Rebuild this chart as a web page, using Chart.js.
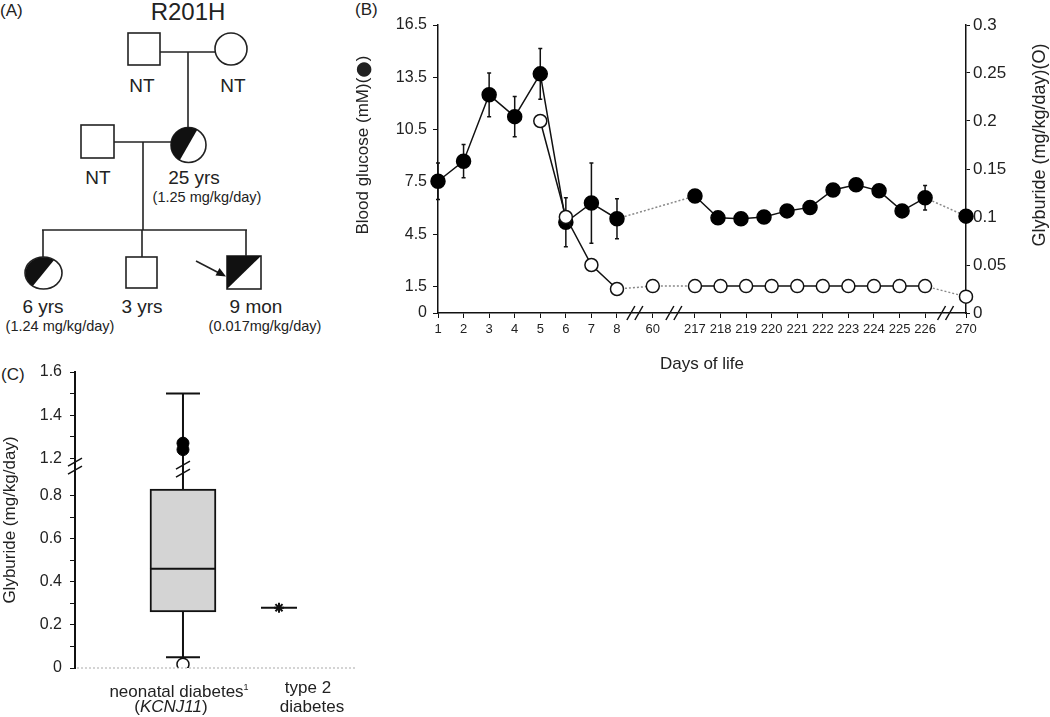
<!DOCTYPE html>
<html>
<head>
<meta charset="utf-8">
<script src="https://cdn.jsdelivr.net/npm/chart.js@4.4.1/dist/chart.umd.min.js"></script>
<style>
  body { margin: 0; background: #fff; width: 1050px; height: 717px; position: relative; overflow: hidden;
         font-family: "Liberation Sans", Arial, sans-serif; color: #222; }
  #pedigree { position: absolute; left: 0; top: 0; }
  #boxB { position: absolute; left: 355px; top: 0; width: 695px; height: 380px; }
  #boxC { position: absolute; left: 0; top: 340px; width: 380px; height: 377px; }
  .lbl { position: absolute; font-size: 17px; line-height: 19px; white-space: nowrap; transform: translateX(-50%); }
  .tag { position: absolute; font-size: 17px; line-height: 19px; }
  sup { font-size: 9px; vertical-align: 7px; }
</style>
</head>
<body>

<!-- (A) pedigree -->
<svg id="pedigree" width="355" height="336" viewBox="0 0 355 336" font-family="Liberation Sans, Arial, sans-serif" fill="#222">
  <text x="0" y="16" font-size="17">(A)</text>
  <text x="188" y="20" font-size="24" text-anchor="middle">R201H</text>
  <g stroke="#222" stroke-width="1.6" fill="none">
    <line x1="160" y1="52" x2="215" y2="52"/>
    <line x1="188" y1="52" x2="188" y2="127"/>
    <line x1="114" y1="142" x2="171" y2="142"/>
    <line x1="143" y1="142" x2="143" y2="230"/>
    <line x1="42" y1="230" x2="247" y2="230"/>
    <line x1="43" y1="230" x2="43" y2="257"/>
    <line x1="142" y1="230" x2="142" y2="257"/>
    <line x1="246" y1="230" x2="246" y2="256"/>
    <rect x="128" y="33" width="32" height="32" fill="#fff"/>
    <circle cx="231" cy="49" r="16" fill="#fff"/>
    <rect x="81" y="125" width="33" height="33" fill="#fff"/>
    <circle cx="188.5" cy="145" r="17.5" fill="#fff"/>
    <ellipse cx="43.5" cy="273" rx="18.5" ry="16" fill="#fff"/>
    <rect x="126" y="257" width="31" height="31" fill="#fff"/>
    <rect x="227" y="256" width="34" height="33" fill="#fff"/>
    <line x1="196" y1="261" x2="221" y2="274"/>
  </g>
  <g fill="#111" stroke="none">
    <path d="M197.25,129.84 A17.5,17.5 0 0 0 179.75,160.16 Z"/>
    <path d="M54.11,259.9 A18.5,16 0 0 0 32.89,286.1 Z"/>
    <polygon points="227,256 261,256 227,289"/>
    <polygon points="226,276.5 215.5,275.5 219.5,268"/>
  </g>
  <g font-size="19" text-anchor="middle">
    <text x="142" y="92">NT</text>
    <text x="233" y="92">NT</text>
    <text x="98" y="184">NT</text>
    <text x="194" y="184">25 yrs</text>
    <text x="43" y="313">6 yrs</text>
    <text x="142" y="313">3 yrs</text>
    <text x="256" y="313">9 mon</text>
  </g>
  <g font-size="14.5" text-anchor="middle">
    <text x="207" y="202">(1.25 mg/kg/day)</text>
    <text x="60" y="331">(1.24 mg/kg/day)</text>
    <text x="265" y="331">(0.017mg/kg/day)</text>
  </g>
</svg>

<div class="tag" style="left:355px; top:0px;">(B)</div>
<div id="boxB"><canvas id="chartB"></canvas></div>

<div class="tag" style="left:1px; top:365px;">(C)</div>
<div id="boxC"><canvas id="chartC"></canvas></div>
<div class="lbl" style="left:179px; top:678px;">neonatal diabetes<sup>1</sup></div>
<div class="lbl" style="left:171px; top:697px;">(<i>KCNJ11</i>)</div>
<div class="lbl" style="left:308px; top:678px;">type 2</div>
<div class="lbl" style="left:312px; top:697px;">diabetes</div>

<script>
// ---------- data, panel B ----------
const dayTicks = [1, 2, 3, 4, 5, 6, 7, 8, 60, 217, 218, 219, 220, 221, 222, 223, 224, 225, 226, 270];
const glucoseDays = [1, 2, 3, 4, 5, 6, 7, 8, 217, 217.9, 218.8, 219.7, 220.6, 221.5, 222.4, 223.3, 224.2, 225.1, 226, 270];
const glucoseMean = [7.55, 8.7, 12.5, 11.25, 13.7, 5.2, 6.3, 5.4, 6.7, 5.45, 5.4, 5.5, 5.85, 6.05, 7.05, 7.35, 7.0, 5.85, 6.6, 5.55];
const glucoseSD = [1.05, 0.95, 1.25, 1.15, 1.45, 1.4, 2.3, 1.15, 0, 0, 0, 0, 0, 0, 0, 0, 0, 0, 0.7, 0];
const glyburideDays = [5, 6, 7, 8, 60, 217, 218, 219, 220, 221, 222, 223, 224, 225, 226, 270];
const glyburideDose = [0.2, 0.1, 0.05, 0.025, 0.028, 0.028, 0.028, 0.028, 0.028, 0.028, 0.028, 0.028, 0.028, 0.028, 0.028, 0.017];
const glucoseTicks = [0, 1.5, 4.5, 7.5, 10.5, 13.5, 16.5];
const doseTicksB = [0, 0.05, 0.1, 0.15, 0.2, 0.25, 0.3];

// ---------- data, panel C ----------
const neonatalBox = [0.05, 0.26, 0.46, 0.83, 1.5];   // min, q1, median, q3, max
const familyDoses = [1.24, 1.27];
const probandDose = [0.017];
const type2Dose = [0.28];
const doseTicksC = [0, 0.1, 0.2, 0.3, 0.4, 0.5, 0.6, 0.7, 0.8, 1.2, 1.3, 1.4, 1.5, 1.6];

const FONT = '"Liberation Sans", Arial, sans-serif';
Chart.defaults.font.family = FONT;
Chart.defaults.color = '#222';
Chart.defaults.animation = false;

// broken day axis: 1..8 | 60 | 217..226 | 270
function slot(d) {
    if (d <= 8) return d - 1;
    if (d < 217) return 8.4;
    if (d <= 226) return d - 217 + 10.05;
    return 20.65;
}
const isGap = (days) => (c) => days[c.p1DataIndex] - days[c.p0DataIndex] > 20;

const errorBars = {
    id: 'errorBars',
    beforeDatasetsDraw(chart) {
        const { ctx, scales: { x, y } } = chart;
        ctx.save();
        ctx.strokeStyle = '#111';
        ctx.lineWidth = 1.5;
        glucoseDays.forEach((d, i) => {
            if (!glucoseSD[i]) return;
            const px = x.getPixelForValue(slot(d));
            const top = y.getPixelForValue(glucoseMean[i] + glucoseSD[i]);
            const bot = y.getPixelForValue(glucoseMean[i] - glucoseSD[i]);
            ctx.beginPath();
            ctx.moveTo(px, top); ctx.lineTo(px, bot);
            ctx.moveTo(px - 2, top); ctx.lineTo(px + 2, top);
            ctx.moveTo(px - 2, bot); ctx.lineTo(px + 2, bot);
            ctx.stroke();
        });
        ctx.restore();
    }
};

function breakMark(ctx, cx, cy, vertical) {
    ctx.beginPath();
    [-4, 4].forEach(o => {
        if (vertical) { ctx.moveTo(cx - 7, cy + o + 4); ctx.lineTo(cx + 7, cy + o - 4); }
        else { ctx.moveTo(cx + o - 4, cy + 7); ctx.lineTo(cx + o + 4, cy - 7); }
    });
    ctx.stroke();
}

// rotated title made of pieces with their own fonts, centred on (cx, cy)
function rotatedTitle(ctx, parts, cx, cy) {
    ctx.save();
    ctx.translate(cx, cy);
    ctx.rotate(-Math.PI / 2);
    ctx.textAlign = 'left';
    ctx.textBaseline = 'middle';
    let total = 0;
    parts.forEach(p => { ctx.font = p[1]; total += ctx.measureText(p[0]).width; });
    let pos = -total / 2;
    parts.forEach(p => {
        ctx.font = p[1];
        ctx.fillText(p[0], pos, p[2] || 0);
        pos += ctx.measureText(p[0]).width;
    });
    ctx.restore();
}

const decorB = {
    id: 'decorB',
    afterDraw(chart) {
        const { ctx, chartArea: a, scales: { x } } = chart;
        ctx.save();
        ctx.strokeStyle = '#111';
        ctx.lineWidth = 1.5;
        for (let i = 1; i < dayTicks.length; i++) {
            if (dayTicks[i] - dayTicks[i - 1] > 20) {
                breakMark(ctx, x.getPixelForValue((slot(dayTicks[i]) + slot(dayTicks[i - 1])) / 2), a.bottom, false);
            }
        }
        ctx.fillStyle = '#222';
        ctx.textAlign = 'center';
        ctx.textBaseline = 'middle';
        ctx.font = '17px ' + FONT;
        ctx.fillText('Days of life', (a.left + a.right) / 2, 364);
        rotatedTitle(ctx, [
            ['Blood glucose (mM)(', '17px ' + FONT],
            ['\u25CF', '19px "DejaVu Sans"', 1],
            [')', '17px ' + FONT]
        ], a.left - 75, 145);
        rotatedTitle(ctx, [['Glyburide (mg/kg/day)(O)', '18px ' + FONT]], a.right + 74, 145);
        ctx.restore();
    }
};

new Chart(document.getElementById('chartB'), {
    type: 'line',
    data: {
        datasets: [{
            label: 'Glyburide',
            data: glyburideDays.map((d, i) => ({ x: slot(d), y: glyburideDose[i] })),
            yAxisID: 'y1',
            borderColor: '#111',
            borderWidth: 1.5,
            pointRadius: 6.5,
            pointBackgroundColor: '#fff',
            pointBorderColor: '#111',
            pointBorderWidth: 1.5,
            clip: false,
            segment: {
                borderDash: c => isGap(glyburideDays)(c) ? [2, 2] : undefined,
                borderColor: c => isGap(glyburideDays)(c) ? '#888' : undefined
            }
        }, {
            label: 'Blood glucose',
            data: glucoseDays.map((d, i) => ({ x: slot(d), y: glucoseMean[i] })),
            yAxisID: 'y',
            borderColor: '#111',
            borderWidth: 1.5,
            pointRadius: 7,
            pointBackgroundColor: '#000',
            pointBorderColor: '#000',
            clip: false,
            segment: {
                borderDash: c => isGap(glucoseDays)(c) ? [2, 2] : undefined,
                borderColor: c => isGap(glucoseDays)(c) ? '#888' : undefined
            }
        }]
    },
    options: {
        responsive: true,
        maintainAspectRatio: false,
        layout: { padding: { top: 25, left: 0, right: 0, bottom: 0 } },
        plugins: { legend: { display: false }, tooltip: { enabled: false } },
        scales: {
            x: {
                type: 'linear', min: 0, max: 20.65,
                afterBuildTicks: s => { s.ticks = dayTicks.map(d => ({ value: slot(d) })); },
                afterFit: s => { s.height = 67; },
                ticks: { callback: (v, i) => dayTicks[i], autoSkip: false, maxRotation: 0, font: { size: 13 }, padding: 4 },
                grid: { drawOnChartArea: false, tickLength: 5, color: '#111' },
                border: { color: '#111', width: 1.5 }
            },
            y: {
                position: 'left', min: 0, max: 16.5,
                afterBuildTicks: s => { s.ticks = glucoseTicks.map(v => ({ value: v })); },
                afterFit: s => { s.width = 83; },
                ticks: { callback: v => String(v), font: { size: 16 }, padding: 6 },
                grid: { drawOnChartArea: false, tickLength: 5, color: '#111' },
                border: { color: '#111', width: 1.5 }
            },
            y1: {
                position: 'right', min: 0, max: 0.3,
                afterBuildTicks: s => { s.ticks = doseTicksB.map(v => ({ value: v })); },
                afterFit: s => { s.width = 84; },
                ticks: { callback: v => String(v), font: { size: 17 }, padding: 3 },
                grid: { drawOnChartArea: false, tickLength: 4, color: '#111' },
                border: { color: '#111', width: 1.5 }
            }
        }
    },
    plugins: [errorBars, decorB]
});

// ---------- panel C: broken dose axis ----------
const SHIFT = 0.227;
const yc = v => v > 1.05 ? v - SHIFT : v;
const breakAt = (0.9 + yc(1.2)) / 2;

const decorC = {
    id: 'decorC',
    beforeDatasetsDraw(chart) {
        const { ctx, scales: { x, y } } = chart;
        const px = x.getPixelForValue(1);
        ctx.save();
        ctx.strokeStyle = '#111';
        ctx.lineWidth = 2;
        ctx.beginPath();
        ctx.moveTo(px, y.getPixelForValue(yc(neonatalBox[3])));
        ctx.lineTo(px, y.getPixelForValue(yc(neonatalBox[4])));
        ctx.moveTo(px, y.getPixelForValue(yc(neonatalBox[1])));
        ctx.lineTo(px, y.getPixelForValue(yc(neonatalBox[0])));
        [neonatalBox[0], neonatalBox[4]].forEach(v => {
            ctx.moveTo(px - 17, y.getPixelForValue(yc(v)));
            ctx.lineTo(px + 17, y.getPixelForValue(yc(v)));
        });
        ctx.stroke();
        ctx.restore();
    },
    afterDatasetsDraw(chart) {
        const { ctx, chartArea: a, scales: { x, y } } = chart;
        const px = x.getPixelForValue(1);
        ctx.save();
        ctx.strokeStyle = '#111';
        ctx.lineWidth = 2;
        ctx.beginPath();
        ctx.moveTo(px - 33, y.getPixelForValue(yc(neonatalBox[2])));
        ctx.lineTo(px + 33, y.getPixelForValue(yc(neonatalBox[2])));
        ctx.stroke();
        ctx.lineWidth = 1.5;
        breakMark(ctx, a.left, y.getPixelForValue(breakAt), true);
        breakMark(ctx, px, y.getPixelForValue(breakAt) + 3, true);
        ctx.strokeStyle = '#aaa';
        ctx.lineWidth = 1;
        ctx.setLineDash([2, 2]);
        ctx.beginPath();
        ctx.moveTo(a.left + 2, y.getPixelForValue(0));
        ctx.lineTo(a.right, y.getPixelForValue(0));
        ctx.stroke();
        ctx.restore();
    }
};

new Chart(document.getElementById('chartC'), {
    type: 'scatter',
    data: {
        datasets: [{
            data: familyDoses.map(v => ({ x: 1, y: yc(v) })),
            pointRadius: 6, pointBackgroundColor: '#000', pointBorderColor: '#000'
        }, {
            data: probandDose.map(v => ({ x: 1, y: yc(v) })),
            pointRadius: 6, pointBackgroundColor: '#fff', pointBorderColor: '#111', pointBorderWidth: 1.5
        }, {
            data: type2Dose.map(v => ({ x: 2, y: yc(v) })),
            pointStyle: 'star', pointRadius: 5, pointBorderColor: '#111', pointBorderWidth: 2
        }, {
            data: type2Dose.map(v => ({ x: 2, y: yc(v) })),
            pointStyle: 'line', pointRadius: 18, pointBorderColor: '#111', pointBorderWidth: 2
        }, {
            type: 'bar',
            data: [{ x: 1, y: [yc(neonatalBox[1]), yc(neonatalBox[3])] }],
            backgroundColor: '#d4d4d4', borderColor: '#111', borderWidth: 2,
            borderSkipped: false, barThickness: 66
        }]
    },
    options: {
        responsive: true,
        maintainAspectRatio: false,
        layout: { padding: { top: 32, right: 25, bottom: 49, left: 0 } },
        plugins: { legend: { display: false }, tooltip: { enabled: false } },
        scales: {
            x: { type: 'linear', min: 0.167, max: 2.5, display: false },
            y: {
                min: 0, max: yc(1.6),
                afterBuildTicks: s => { s.ticks = doseTicksC.map(v => ({ value: yc(v) })); },
                afterFit: s => { s.width = 75; },
                ticks: {
                    autoSkip: false, font: { size: 16 }, padding: 8,
                    callback: (v, i) => {
                        const t = doseTicksC[i];
                        if (Math.round(t * 10) % 2) return '';
                        return t === 0 ? '0' : t.toFixed(1);
                    }
                },
                grid: { drawOnChartArea: false, tickLength: 5, color: '#111' },
                border: { color: '#111', width: 2 },
                title: { display: true, text: 'Glyburide (mg/kg/day)', font: { size: 17 }, padding: 0 }
            }
        }
    },
    plugins: [decorC]
});
</script>
</body>
</html>
